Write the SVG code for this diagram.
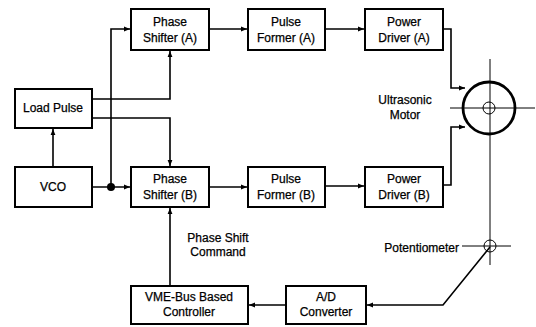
<svg xmlns="http://www.w3.org/2000/svg" width="536" height="327" viewBox="0 0 536 327">
<defs>
<marker id="ah" viewBox="0 0 10 10" refX="10" refY="5" markerWidth="6" markerHeight="6" orient="auto" markerUnits="userSpaceOnUse">
<path d="M0,1 L10,5 L0,9 z" fill="#000"/>
</marker>
<style>
.box{fill:#fff;stroke:#000;stroke-width:2}
.t{font-family:"Liberation Sans",Arial,sans-serif;font-size:12px;fill:#000;stroke:#000;stroke-width:0.25;text-anchor:middle}
.c{fill:none;stroke:#000;stroke-width:1.6}
.a{marker-end:url(#ah)}
.th{fill:none;stroke:#000;stroke-width:1}
</style>
</defs>
<rect width="536" height="327" fill="#fff"/>
<g id="connectors">
<path class="c a" d="M53,167 V129"/>
<path class="c a" d="M92,187 H130"/>
<path class="c a" d="M111,187 V29 H130"/>
<path class="c a" d="M92,99 H170 V51"/>
<path class="c a" d="M92,118 H170 V166"/>
<path class="c a" d="M209,29 H247"/>
<path class="c a" d="M325,29 H364"/>
<path class="c a" d="M209,187 H247"/>
<path class="c a" d="M325,186 H364"/>
<path class="c a" d="M443,29 H451 V88 H465"/>
<path class="c a" d="M443,185 H451 V127 H465"/>
<path class="c a" d="M170,286 V208"/>
<path class="c a" d="M490,247 L443,305 H367"/>
<path class="c a" d="M286,305 H249"/>
<circle cx="111" cy="187" r="4" fill="#000"/>
</g>
<g id="motor">
<circle cx="489" cy="108" r="26" fill="none" stroke="#000" stroke-width="2.8"/>
<circle cx="489" cy="108" r="6" class="th"/>
<path class="th" d="M450,108 H535 M490,59 V265"/>
<text class="t" x="405" y="104">Ultrasonic</text>
<text class="t" x="405" y="119">Motor</text>
</g>
<g id="potentiometer">
<circle cx="490" cy="246" r="6" class="th"/>
<path class="th" d="M462,246 H511"/>
<text class="t" x="459" y="252" style="text-anchor:end">Potentiometer</text>
</g>
<g id="phase-shifter-a"><rect class="box" x="131" y="9" width="78" height="41"/><text class="t" x="170" y="26">Phase</text><text class="t" x="170" y="42">Shifter (A)</text></g>
<g id="pulse-former-a"><rect class="box" x="248" y="9" width="77" height="41"/><text class="t" x="286" y="26">Pulse</text><text class="t" x="286" y="42">Former  (A)</text></g>
<g id="power-driver-a"><rect class="box" x="365" y="9" width="78" height="41"/><text class="t" x="404" y="26">Power</text><text class="t" x="404" y="42">Driver (A)</text></g>
<g id="load-pulse"><rect class="box" x="15" y="89" width="77" height="39"/><text class="t" x="53" y="112">Load Pulse</text></g>
<g id="vco"><rect class="box" x="15" y="167" width="77" height="40"/><text class="t" x="53" y="191">VCO</text></g>
<g id="phase-shifter-b"><rect class="box" x="131" y="167" width="78" height="40"/><text class="t" x="170" y="183">Phase</text><text class="t" x="170" y="199">Shifter (B)</text></g>
<g id="pulse-former-b"><rect class="box" x="248" y="167" width="77" height="40"/><text class="t" x="286" y="183">Pulse</text><text class="t" x="286" y="199">Former (B)</text></g>
<g id="power-driver-b"><rect class="box" x="365" y="167" width="78" height="40"/><text class="t" x="404" y="183">Power</text><text class="t" x="404" y="199">Driver (B)</text></g>
<g id="command-label"><text class="t" x="218" y="242">Phase Shift</text><text class="t" x="218" y="256">Command</text></g>
<g id="vme-controller"><rect class="box" x="131" y="286" width="117" height="38"/><text class="t" x="189" y="301">VME-Bus Based</text><text class="t" x="189" y="316">Controller</text></g>
<g id="ad-converter"><rect class="box" x="286" y="286" width="80" height="38"/><text class="t" x="326" y="301">A/D</text><text class="t" x="326" y="316">Converter</text></g>
</svg>
